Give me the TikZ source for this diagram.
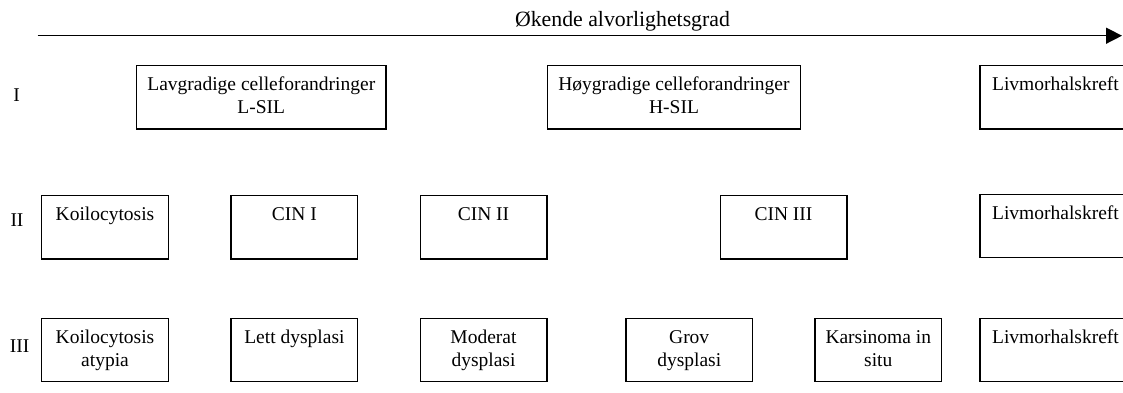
\documentclass[tikz,border=0pt]{standalone}
\usepackage{fontspec}
\setmainfont{Liberation Serif}
\usepackage{tikz}
\usetikzlibrary{arrows.meta,positioning}
\newcommand{\cellrows}[1]{\begin{tabular}[t]{@{}c@{}}#1\end{tabular}}
\tikzstyle{cell}=[rectangle, draw, line width=1.3pt, inner sep=0pt, minimum width=126.7pt, minimum height=63.3pt, text height=25pt, text depth=38.3pt, font=\fontsize{19.5}{23}\selectfont]
\tikzstyle{lbl}=[inner sep=0pt, anchor=base, font=\fontsize{19.5}{23}\selectfont]
\tikzstyle{axis}=[line width=1.5pt, -{Triangle[length=16pt,width=16pt]}]

\begin{document}
\begin{tikzpicture}[x=1pt,y=-1pt]
\useasboundingbox (0,0) rectangle (1123,392);

%Severity axis
\coordinate (axstart) at (37.7,35.7);
\coordinate (axend) at (1122,35.7);
\draw[axis] (axstart) -- (axend);
\node[lbl, font=\fontsize{21.8}{26}\selectfont] (title) at (622.5,26.7){Økende alvorlighetsgrad};

%Row labels
\node[lbl] (rowI) at (16.7,101.5){I};
\node[lbl] (rowII) at (17,226.5){II};
\node[lbl] (rowIII) at (19.7,352){III};

%Row One
\node[cell, minimum width=249.3pt] (lsil) at (261.3,97.3){\cellrows{Lavgradige celleforandringer\\L-SIL}};
\node[cell, minimum width=253.4pt] (hsil) at (674,97.3){\cellrows{Høygradige celleforandringer\\H-SIL}};
\node[cell, minimum width=151pt] (kreft1) at (1055.5,97.3){\cellrows{Livmorhalskreft}};
%Row Two
\node[cell] (koil) at (105,227.3){\cellrows{Koilocytosis}};
\node[cell] (cin1) at (294.4,227.3){\cellrows{CIN I}};
\node[cell] (cin2) at (483.5,227.3){\cellrows{CIN II}};
\node[cell] (cin3) at (783.5,227.3){\cellrows{CIN III}};
\node[cell, minimum width=151pt] (kreft2) at (1055.5,226){\cellrows{Livmorhalskreft}};
%Row Three
\node[cell] (koilat) at (105,350){\cellrows{Koilocytosis\\atypia}};
\node[cell] (lett) at (294.4,350){\cellrows{Lett dysplasi}};
\node[cell] (mod) at (483.5,350){\cellrows{Moderat\\dysplasi}};
\node[cell] (grov) at (689.2,350){\cellrows{Grov\\dysplasi}};
\node[cell] (kis) at (878.3,350){\cellrows{Karsinoma in\\situ}};
\node[cell, minimum width=151pt] (kreft3) at (1055.5,350){\cellrows{Livmorhalskreft}};

\end{tikzpicture}
\end{document}
